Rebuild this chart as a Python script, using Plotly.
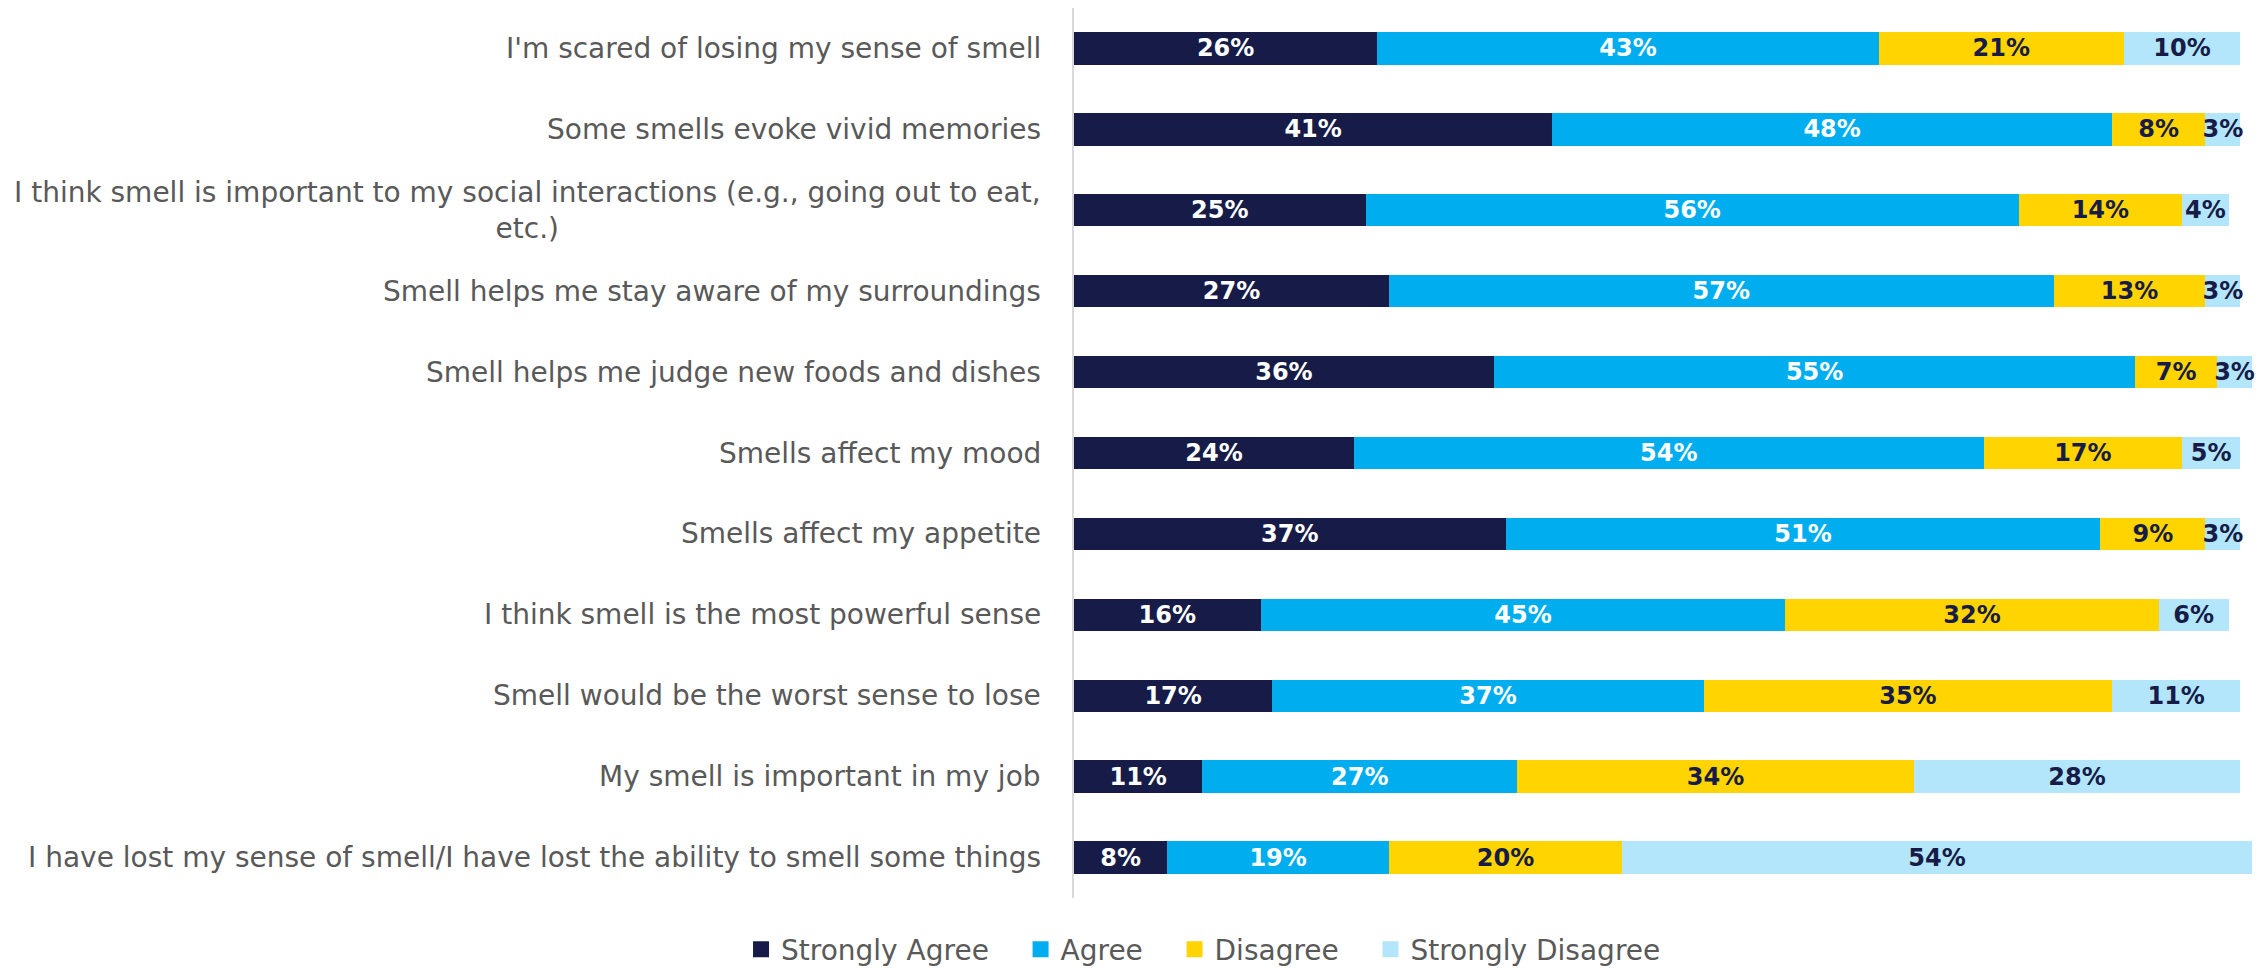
import plotly.graph_objects as go

# Survey statements, top to bottom
statements = [
    "I'm scared of losing my sense of smell",
    "Some smells evoke vivid memories",
    "I think smell is important to my social interactions (e.g., going out to eat,<br>etc.)",
    "Smell helps me stay aware of my surroundings",
    "Smell helps me judge new foods and dishes",
    "Smells affect my mood",
    "Smells affect my appetite",
    "I think smell is the most powerful sense",
    "Smell would be the worst sense to lose",
    "My smell is important in my job",
    "I have lost my sense of smell/I have lost the ability to smell some things",
]

# Share of respondents (%) per response
strongly_agree = [26, 41, 25, 27, 36, 24, 37, 16, 17, 11, 8]
agree = [43, 48, 56, 57, 55, 54, 51, 45, 37, 27, 19]
disagree = [21, 8, 14, 13, 7, 17, 9, 32, 35, 34, 20]
strongly_disagree = [10, 3, 4, 3, 3, 5, 3, 6, 11, 28, 54]

series_names = ["Strongly Agree", "Agree", "Disagree", "Strongly Disagree"]
series_values = [strongly_agree, agree, disagree, strongly_disagree]
series_colors = ["#161c47", "#00aeef", "#ffd400", "#b3e6fa"]
label_colors = ["#ffffff", "#ffffff", "#161c47", "#161c47"]

FONT = "DejaVu Sans, Verdana, sans-serif"
GREY = "#595959"

# Rounded shares can total 101, so leave room for the longest stack
x_max = max(a + b + c + d for a, b, c, d in zip(*series_values))

fig = go.Figure()

for name, vals, col, lcol in zip(series_names, series_values, series_colors, label_colors):
    fig.add_trace(go.Bar(
        y=statements,
        x=vals,
        orientation="h",
        name=name,
        marker=dict(color=col, line=dict(width=0)),
        text=[f"{v}%" for v in vals],
        texttemplate="<b>%{text}</b>",
        textposition="inside",
        insidetextanchor="middle",
        textangle=0,
        constraintext="none",
        insidetextfont=dict(family=FONT, size=24, color=lcol),
        cliponaxis=False,
        showlegend=False,
        hoverinfo="skip",
    ))

# Legend entries drawn as square swatches
for name, col in zip(series_names, series_colors):
    fig.add_trace(go.Scatter(
        x=[None], y=[None],
        mode="markers",
        marker=dict(symbol="square", size=18, color=col),
        name=name + "\u00a0\u00a0\u00a0",
        showlegend=True,
    ))

# Statement labels to the left of the bars (centred multi-line text)
for s in statements:
    fig.add_annotation(
        x=0, xref="paper", y=s, yref="y",
        text=s, showarrow=False,
        xanchor="right", yanchor="middle", align="center",
        xshift=-31,
        font=dict(family=FONT, size=28, color=GREY),
    )

fig.update_layout(
    width=2258, height=969,
    barmode="stack",
    bargap=0.6,
    plot_bgcolor="white",
    paper_bgcolor="white",
    margin=dict(l=1074, r=6, t=8, b=71, autoexpand=False),
    font=dict(family=FONT, size=28, color=GREY),
    legend=dict(
        orientation="h",
        traceorder="normal",
        x=0.121, xanchor="center",
        y=-0.058, yanchor="middle",
        font=dict(family=FONT, size=28, color=GREY),
        itemclick=False, itemdoubleclick=False,
    ),
    xaxis=dict(range=[0, x_max], visible=False, fixedrange=True),
    yaxis=dict(
        categoryorder="array", categoryarray=statements,
        autorange="reversed",
        showticklabels=False, showgrid=False, zeroline=False,
        showline=True, linecolor="#d9d9d9", linewidth=2,
        ticks="", fixedrange=True,
    ),
)

fig.write_html("out.html")
